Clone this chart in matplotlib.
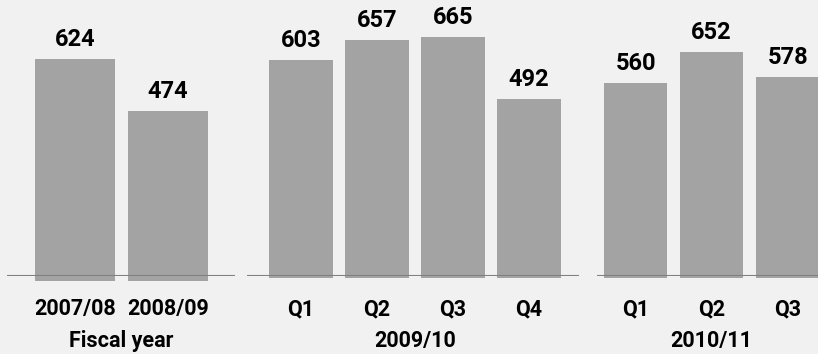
import matplotlib.pyplot as plt

# data
fy_labels = ["2007/08", "2008/09"]
fy_values = [624, 474]
q_labels_0910 = ["Q1", "Q2", "Q3", "Q4"]
q_values_0910 = [603, 657, 665, 492]
q_labels_1011 = ["Q1", "Q2", "Q3"]
q_values_1011 = [560, 652, 578]
group_titles = ["Fiscal year", "2009/10", "2010/11"]

plt.rcParams["font.family"] = ["Roboto", "DejaVu Sans"]
plt.rcParams["font.weight"] = "bold"

BG = "#f1f1f1"
BAR = "#a3a3a4"
LINE = "#808080"
W, H = 818, 354
base = 78  # baseline, pixels from bottom
px = 72 / 100  # points per pixel

fig = plt.figure(figsize=(W / 100, H / 100), dpi=100)
fig.patch.set_facecolor(BG)

# (left px, right px, xlim, ylim top, bar width, bar bottom)
groups = [
    (fy_labels, fy_values, group_titles[0], 7, 235, (-0.726, 1.715), 793, 0.86, -14),
    (q_labels_0910, q_values_0910, group_titles[1], 247, 579, (-0.71, 3.66), 769, 0.84, -6),
    (q_labels_1011, q_values_1011, group_titles[2], 597, 838, (-0.507, 2.66), 802, 0.83, -6),
]

for labels, values, title, x0, x1, xlim, ytop, bw, bot in groups:
    ax = fig.add_axes([x0 / W, base / H, (x1 - x0) / W, (H - base) / H])
    ax.patch.set_alpha(0)
    xs = list(range(len(values)))
    ax.bar(xs, [v - bot for v in values], bottom=bot, width=bw, color=BAR,
           clip_on=False, zorder=1)
    ax.axhline(0, color=LINE, lw=1.5, zorder=2)
    for x, v in zip(xs, values):
        ax.annotate(f"{v}", (x, v), xytext=(0, 13 * px), textcoords="offset points",
                    ha="center", va="baseline", fontsize=17, fontweight="bold",
                    color="black", annotation_clip=False)
    ax.set_xlim(*xlim)
    ax.set_ylim(0, ytop)
    ax.set_xticks(xs)
    ax.set_xticklabels(labels, fontsize=15.5, fontweight="bold")
    ax.tick_params(axis="x", length=0, pad=16)
    ax.set_yticks([])
    for s in ax.spines.values():
        s.set_visible(False)
    # group caption centred under the bars
    ax.annotate(title, ((xs[0] + xs[-1]) / 2, 0), xytext=(0, -70.5 * px),
                textcoords="offset points", ha="center", va="baseline",
                fontsize=15.5, fontweight="bold", annotation_clip=False)

fig.savefig("out.png", dpi=100, facecolor=BG)
